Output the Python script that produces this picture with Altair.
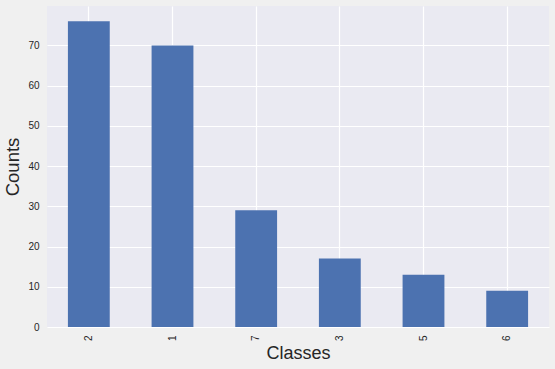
import altair as alt
import pandas as pd

classes = ["2", "1", "7", "3", "5", "6"]
counts = [76, 70, 29, 17, 13, 9]

df = pd.DataFrame({"Classes": classes, "Counts": counts})

chart = alt.Chart(df).mark_bar(color="#4c72b0").encode(
    x=alt.X("Classes:N", sort=classes,
            scale=alt.Scale(paddingInner=0.5, paddingOuter=0.25),
            axis=alt.Axis(title="Classes", labelAngle=-90, labelPadding=8,
                          titleFontSize=18, titlePadding=4)),
    y=alt.Y("Counts:Q", scale=alt.Scale(domain=[0, 79.8], nice=False),
            axis=alt.Axis(title="Counts", values=list(range(0, 80, 10)),
                          labelPadding=8, titleFontSize=18.5, titlePadding=5)),
).properties(
    width=502, height=321,
    background="#f0f0f0",
    padding={"left": 47, "top": 6, "right": 6, "bottom": 42},
    autosize=alt.AutoSizeParams(type="none"),
).configure_view(
    fill="#eaeaf2", stroke=None
).configure_axis(
    grid=True, gridColor="white", gridWidth=1.2,
    domain=False, ticks=False,
    labelFont="Liberation Sans", titleFont="Liberation Sans",
    labelFontSize=10, labelColor="#262626", titleColor="#262626",
    titleFontWeight="normal",
)

chart.save("out.html", embed_options={"renderer": "svg", "actions": False})
